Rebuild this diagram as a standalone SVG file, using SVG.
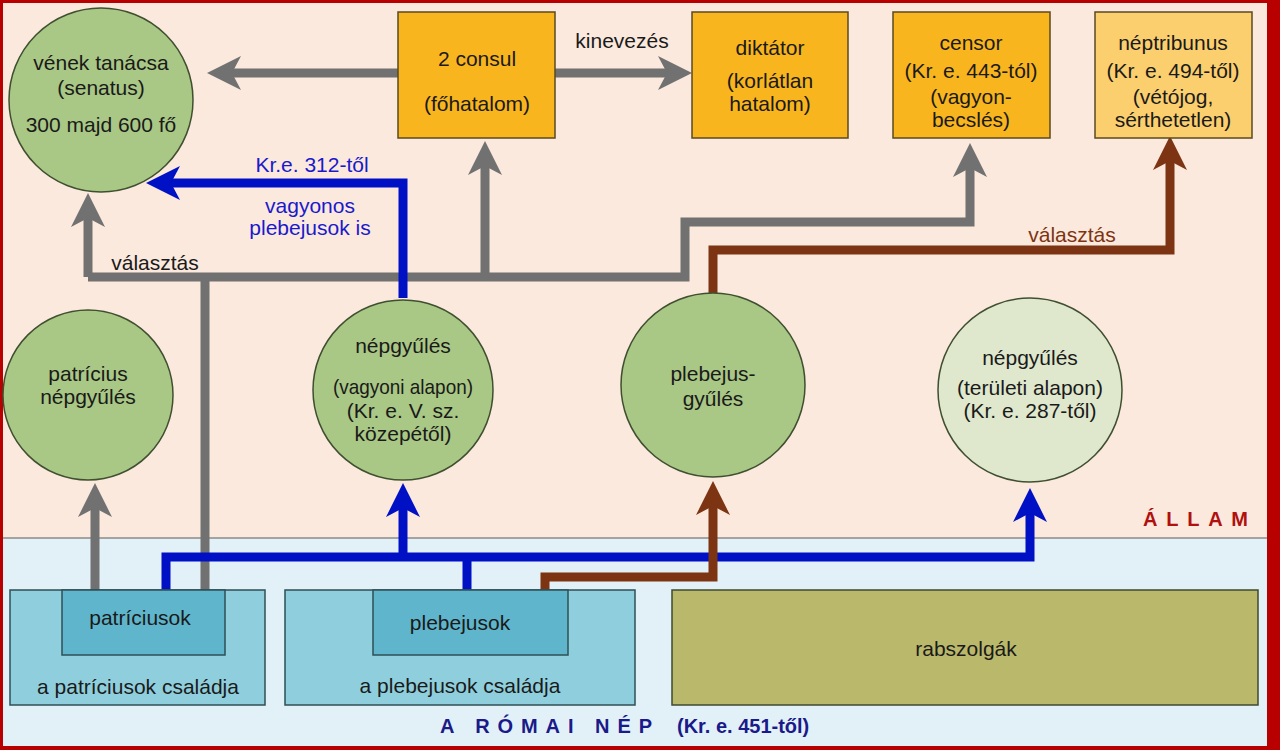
<svg xmlns="http://www.w3.org/2000/svg" width="1280" height="750" viewBox="0 0 1280 750">
<style>
text{font-family:"Liberation Sans",Arial,sans-serif;font-size:21px;fill:#1a1a1a;text-anchor:middle}
.c{fill:#a9c785;stroke:#3f4f30;stroke-width:1.5}
.o{fill:#f9b51e;stroke:#5a4a20;stroke-width:1.5}
.g{fill:none;stroke:#717171;stroke-width:9}
.b{fill:none;stroke:#0010c4;stroke-width:9}
.r{fill:none;stroke:#7d3412;stroke-width:9}
.t{fill:#1a1a8a;font-weight:bold;font-size:20px;text-anchor:start}
</style>
<defs>
<marker id="ag" markerUnits="userSpaceOnUse" markerWidth="40" markerHeight="40" viewBox="0 -20 34 40" refX="16" refY="0" orient="auto"><path d="M34,0 L0,-17 L9,0 L0,17 Z" fill="#717171"/></marker>
<marker id="ab" markerUnits="userSpaceOnUse" markerWidth="40" markerHeight="40" viewBox="0 -20 34 40" refX="16" refY="0" orient="auto"><path d="M34,0 L0,-17 L9,0 L0,17 Z" fill="#0010c4"/></marker>
<marker id="ar" markerUnits="userSpaceOnUse" markerWidth="40" markerHeight="40" viewBox="0 -20 34 40" refX="16" refY="0" orient="auto"><path d="M34,0 L0,-17 L9,0 L0,17 Z" fill="#7d3412"/></marker>
</defs>
<rect x="0" y="0" width="1280" height="750" fill="#b80000"/>
<rect x="3" y="3" width="1264" height="535" fill="#fbe9dd"/>
<rect x="3" y="538" width="1264" height="208" fill="#e2f1f7"/>
<line x1="3" y1="538" x2="1267" y2="538" stroke="#8a8a8a" stroke-width="1.5"/>
<text class="t" x="1143" y="526" textLength="105" lengthAdjust="spacing" style="fill:#b01010">ÁLLAM</text>
<text class="t" x="440" y="733" textLength="212" lengthAdjust="spacing">A RÓMAI NÉP</text>
<text class="t" x="677" y="733">(Kr. e. 451-től)</text>

<g id="connectors">
<path class="g" d="M398,73 H225" marker-end="url(#ag)"/>
<path class="g" d="M555,73 H674" marker-end="url(#ag)"/>
<path class="g" d="M95,590 V501" marker-end="url(#ag)"/>
<path class="g" d="M205,590 V277"/>
<path class="g" d="M88,277 V211" marker-end="url(#ag)"/>
<path class="g" d="M88,277 H685 V222 H970 V161" marker-end="url(#ag)"/>
<path class="g" d="M485,277 V159" marker-end="url(#ag)"/>
<path class="b" d="M403,298 V183 H164" marker-end="url(#ab)"/>
<path class="r" d="M713,298 V250 H1170 V154" marker-end="url(#ar)"/>
<path class="b" d="M166,590 V557 H1030 V506" marker-end="url(#ab)"/>
<path class="b" d="M467,590 V557"/>
<path class="b" d="M403,557 V501" marker-end="url(#ab)"/>
<path class="r" d="M545,590 V577 H713 V499" marker-end="url(#ar)"/>
<text x="622" y="48">kinevezés</text>
<text x="155" y="270">választás</text>
<text x="1072" y="242" style="fill:#7d3412">választás</text>
<text x="312" y="172" style="fill:#1a1acc">Kr.e. 312-től</text>
<text x="310" y="213" style="fill:#1a1acc">vagyonos</text>
<text x="310" y="235" style="fill:#1a1acc">plebejusok is</text>
</g>

<g id="senatus"><circle class="c" cx="101" cy="100" r="92"/><text x="101" y="70">vének tanácsa</text><text x="101" y="95">(senatus)</text><text x="101" y="132">300 majd 600 fő</text></g>
<g id="consul"><rect class="o" x="398" y="12" width="157" height="126"/><text x="477" y="66">2 consul</text><text x="477" y="111">(főhatalom)</text></g>
<g id="diktator"><rect class="o" x="692" y="12" width="156" height="126"/><text x="770" y="55">diktátor</text><text x="770" y="88">(korlátlan</text><text x="770" y="111">hatalom)</text></g>
<g id="censor"><rect class="o" x="893" y="12" width="157" height="126"/><text x="971" y="50">censor</text><text x="971" y="78">(Kr. e. 443-tól)</text><text x="971" y="104">(vagyon-</text><text x="971" y="127">becslés)</text></g>
<g id="neptribunus"><rect x="1095" y="12" width="157" height="126" fill="#fbcf6e" stroke="#5a4a20" stroke-width="1.5"/><text x="1173" y="50">néptribunus</text><text x="1173" y="78">(Kr. e. 494-től)</text><text x="1173" y="104">(vétójog,</text><text x="1173" y="127">sérthetetlen)</text></g>
<g id="patricius-nepgyules"><circle class="c" cx="88" cy="395" r="85"/><text x="88" y="381">patrícius</text><text x="88" y="404">népgyűlés</text></g>
<g id="nepgyules-vagyoni"><circle class="c" cx="403" cy="390" r="90"/><text x="403" y="353">népgyűlés</text><text x="403" y="394" textLength="140" lengthAdjust="spacingAndGlyphs">(vagyoni alapon)</text><text x="403" y="418">(Kr. e. V. sz.</text><text x="403" y="441">közepétől)</text></g>
<g id="plebejus-gyules"><circle class="c" cx="713" cy="385" r="92"/><text x="713" y="381">plebejus-</text><text x="713" y="406">gyűlés</text></g>
<g id="nepgyules-teruleti"><circle cx="1030" cy="390" r="92" fill="#dfe8cd" stroke="#3f4f30" stroke-width="1.5"/><text x="1030" y="365">népgyűlés</text><text x="1030" y="395">(területi alapon)</text><text x="1030" y="418">(Kr. e. 287-től)</text></g>

<g id="patriciusok-csaladja"><rect x="10" y="590" width="255" height="115" fill="#8fcfdd" stroke="#2f4f55" stroke-width="1.5"/><rect x="62" y="590" width="163" height="65" fill="#5fb6cc" stroke="#2f4f55" stroke-width="1.5"/><text x="140" y="625">patríciusok</text><text x="138" y="694">a patríciusok családja</text></g>
<g id="plebejusok-csaladja"><rect x="285" y="590" width="350" height="115" fill="#8fcfdd" stroke="#2f4f55" stroke-width="1.5"/><rect x="373" y="590" width="195" height="65" fill="#5fb6cc" stroke="#2f4f55" stroke-width="1.5"/><text x="460" y="630">plebejusok</text><text x="460" y="693">a plebejusok családja</text></g>
<g id="rabszolgak"><rect x="672" y="590" width="586" height="115" fill="#bab86a" stroke="#3f4a30" stroke-width="1.5"/><text x="966" y="656">rabszolgák</text></g>
</svg>
